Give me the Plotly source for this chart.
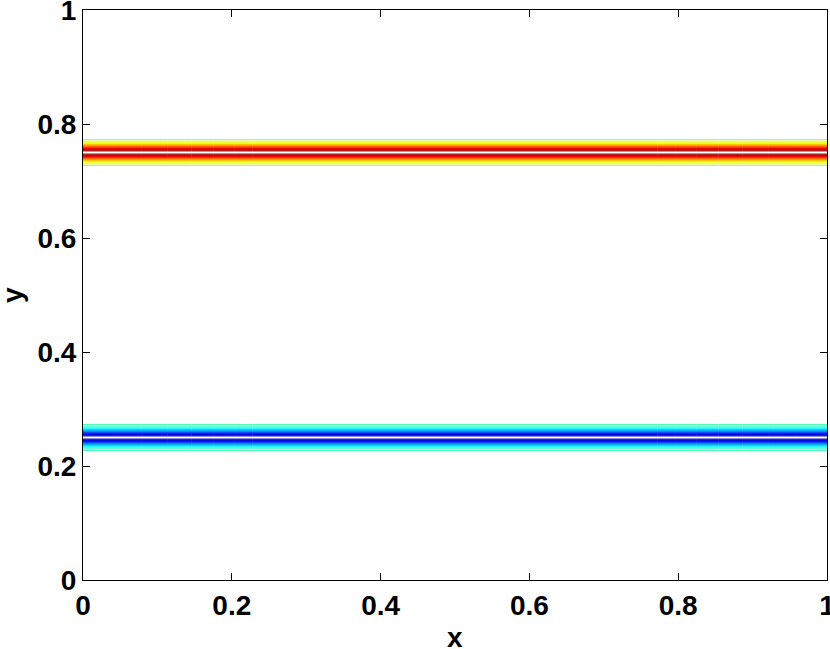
import numpy as np
import plotly.graph_objects as go

# distance from the shear-layer centre line (y units) and normalised vorticity magnitude there
offsets = [0.0, 0.002, 0.004, 0.006, 0.008, 0.010, 0.012, 0.014, 0.016, 0.018,
           0.020, 0.022, 0.024, 0.026, 0.030, 0.035, 0.045, 0.060]
vort_mag = [1.0, 0.9748, 0.9043, 0.8009, 0.6811, 0.5591, 0.4461, 0.3486, 0.2664, 0.2013,
            0.1505, 0.1117, 0.0824, 0.0605, 0.0324, 0.0147, 0.0030, 0.00027]

layer_centres = [0.25, 0.75]
layer_signs = [-1.0, 1.0]

x_vals = [0.0, 0.25, 0.5, 0.75, 1.0]
x_ticks = [0, 0.2, 0.4, 0.6, 0.8, 1]
y_ticks = [0, 0.2, 0.4, 0.6, 0.8, 1]

contour_levels = [-0.95, -0.9, -0.85, -0.8, -0.75, -0.7, -0.65, -0.6, -0.55, -0.5,
                  -0.45, -0.4, -0.35, -0.3, -0.25, -0.2, -0.15, -0.1,
                  0.1, 0.15, 0.2, 0.25, 0.3, 0.35, 0.4, 0.45, 0.5,
                  0.55, 0.6, 0.65, 0.7, 0.75, 0.8, 0.85, 0.9, 0.95]

# build y grid and profile from the arrays above
ys, ws = [0.0, 0.5, 1.0], [0.0, 0.0, 0.0]
for c, s in zip(layer_centres, layer_signs):
    for d, m in zip(offsets, vort_mag):
        if d == 0:
            ys.append(c); ws.append(s * m)
        else:
            ys += [c - d, c + d]; ws += [s * m, s * m]
order = np.argsort(ys)
y_grid = np.array(ys)[order]
w_prof = np.array(ws)[order]
z = np.tile(w_prof[:, None], (1, len(x_vals)))

# MATLAB-style jet colormap
jet_stops = [(0.0, (0, 0, 143)), (0.125, (0, 0, 255)), (0.375, (0, 255, 255)),
             (0.625, (255, 255, 0)), (0.875, (255, 0, 0)), (1.0, (128, 0, 0))]


def jet_color(v, vmin=-1.0, vmax=1.0):
    t = (v - vmin) / (vmax - vmin)
    for (t0, c0), (t1, c1) in zip(jet_stops[:-1], jet_stops[1:]):
        if t0 <= t <= t1:
            f = (t - t0) / (t1 - t0)
            return 'rgb(%d,%d,%d)' % tuple(round(a + f * (b - a)) for a, b in zip(c0, c1))
    return 'rgb(128,0,0)'


fig = go.Figure()
for lv in contour_levels:
    fig.add_trace(go.Contour(
        x=x_vals, y=y_grid, z=z, autocontour=False,
        contours=dict(coloring='none', start=lv, end=lv, size=1),
        line=dict(width=1, color=jet_color(lv)), showscale=False, hoverinfo='skip'))

font = dict(family='Liberation Sans, Arial, sans-serif', size=28, color='black', weight='bold')
axis_common = dict(range=[0, 1], showgrid=False, zeroline=False, showline=True,
                   linecolor='black', linewidth=1, mirror='ticks', ticks='inside',
                   ticklen=7, tickcolor='black', tickfont=font, automargin=False,
                   ticklabeloverflow='allow')

fig.update_layout(
    width=830, height=649, margin=dict(l=83, r=3, t=10, b=69),
    paper_bgcolor='white', plot_bgcolor='white', showlegend=False,
    xaxis=dict(tickvals=x_ticks, **axis_common),
    yaxis=dict(tickvals=y_ticks, **axis_common),
    annotations=[
        dict(text='x', x=0.5, y=(649 - 637 - 69) / 570.0, xref='paper', yref='paper',
             showarrow=False, font=font, yanchor='middle', xanchor='center'),
        dict(text='y', x=(12 - 83) / 744.0, y=(580 - 295) / 570.0, xref='paper', yref='paper',
             showarrow=False, font=font, textangle=-90, xanchor='center', yanchor='middle'),
    ],
)
fig.write_html('out.html', config={'displayModeBar': False},
               post_script="document.body.style.margin='0';")
